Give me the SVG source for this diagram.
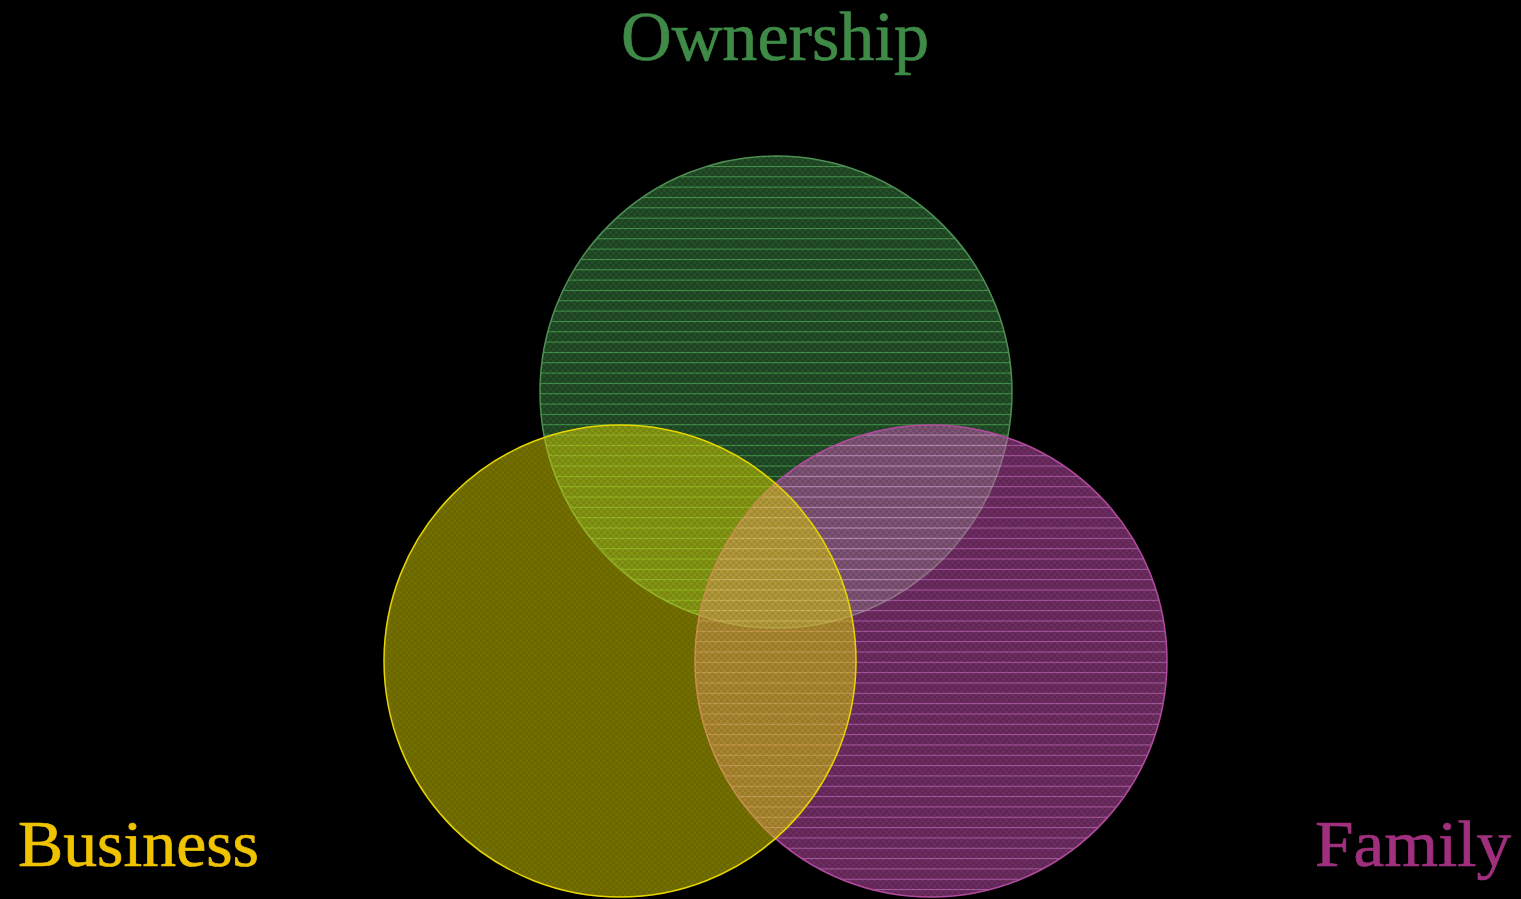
<svg xmlns="http://www.w3.org/2000/svg" width="1521" height="899" viewBox="0 0 1521 899">
  <defs>
    <pattern id="cGreen" patternUnits="userSpaceOnUse" width="6" height="6">
      <rect width="6" height="6" fill="#388442"/>
      <rect x="0" y="0" width="3" height="3" fill="#469c4e"/>
      <rect x="3" y="3" width="3" height="3" fill="#469c4e"/>
    </pattern>
    <pattern id="cYellow" patternUnits="userSpaceOnUse" width="6" height="6">
      <rect width="6" height="6" fill="#d4cc00"/>
      <rect x="0" y="0" width="3" height="3" fill="#e4dc00"/>
      <rect x="3" y="3" width="3" height="3" fill="#e4dc00"/>
    </pattern>
    <pattern id="cPink" patternUnits="userSpaceOnUse" width="6" height="6">
      <rect width="6" height="6" fill="#c24cac"/>
      <rect x="0" y="0" width="3" height="3" fill="#d65abe"/>
      <rect x="3" y="3" width="3" height="3" fill="#d65abe"/>
    </pattern>
    <pattern id="lGreen" patternUnits="userSpaceOnUse" x="0" y="0.7" width="20" height="10.33">
      <rect x="0" y="0" width="20" height="1" fill="#7afc86"/>
    </pattern>
    <pattern id="lPink" patternUnits="userSpaceOnUse" x="0" y="0.7" width="20" height="10.33">
      <rect x="0" y="0" width="20" height="1" fill="#ff9cff"/>
    </pattern>
  </defs>
  <style>
    .set { fill-opacity: 0.5; stroke: none; }
    .lines { fill-opacity: 0.42; stroke: none; }
    .edge { fill: none; stroke-width: 1.5; }
    .lbl { font-family: "Liberation Serif", "DejaVu Serif", serif; stroke-width: 0.7; }
  </style>
  <rect width="1521" height="899" fill="#000000"/>
  <g id="ownership-circle">
    <circle class="set" cx="776" cy="392" r="236" fill="url(#cGreen)"/>
    <circle class="lines" cx="776" cy="392" r="236" fill="url(#lGreen)"/>
    <circle class="edge" cx="776" cy="392" r="236" stroke="#4d8f52"/>
  </g>
  <g id="family-circle">
    <circle class="set" cx="931" cy="661" r="236" fill="url(#cPink)"/>
    <circle class="lines" cx="931" cy="661" r="236" fill="url(#lPink)"/>
    <circle class="edge" cx="931" cy="661" r="236" stroke="#b24a9e"/>
  </g>
  <g id="business-circle">
    <circle class="set" cx="620" cy="661" r="236" fill="url(#cYellow)"/>
    <circle class="edge" cx="620" cy="661" r="236" stroke="#e6d600"/>
  </g>
  <g id="connectors"></g>
  <g id="ownership-label">
    <text class="lbl" x="621" y="60" font-size="70" fill="#3f8a47" stroke="#3f8a47" textLength="308" lengthAdjust="spacingAndGlyphs">Ownership</text>
  </g>
  <g id="business-label">
    <text class="lbl" x="18" y="866" font-size="66" fill="#f0c300" stroke="#f0c300" textLength="241" lengthAdjust="spacingAndGlyphs">Business</text>
  </g>
  <g id="family-label">
    <text class="lbl" x="1315" y="866" font-size="66" fill="#a0307e" stroke="#a0307e" textLength="196" lengthAdjust="spacingAndGlyphs">Family</text>
  </g>
</svg>
